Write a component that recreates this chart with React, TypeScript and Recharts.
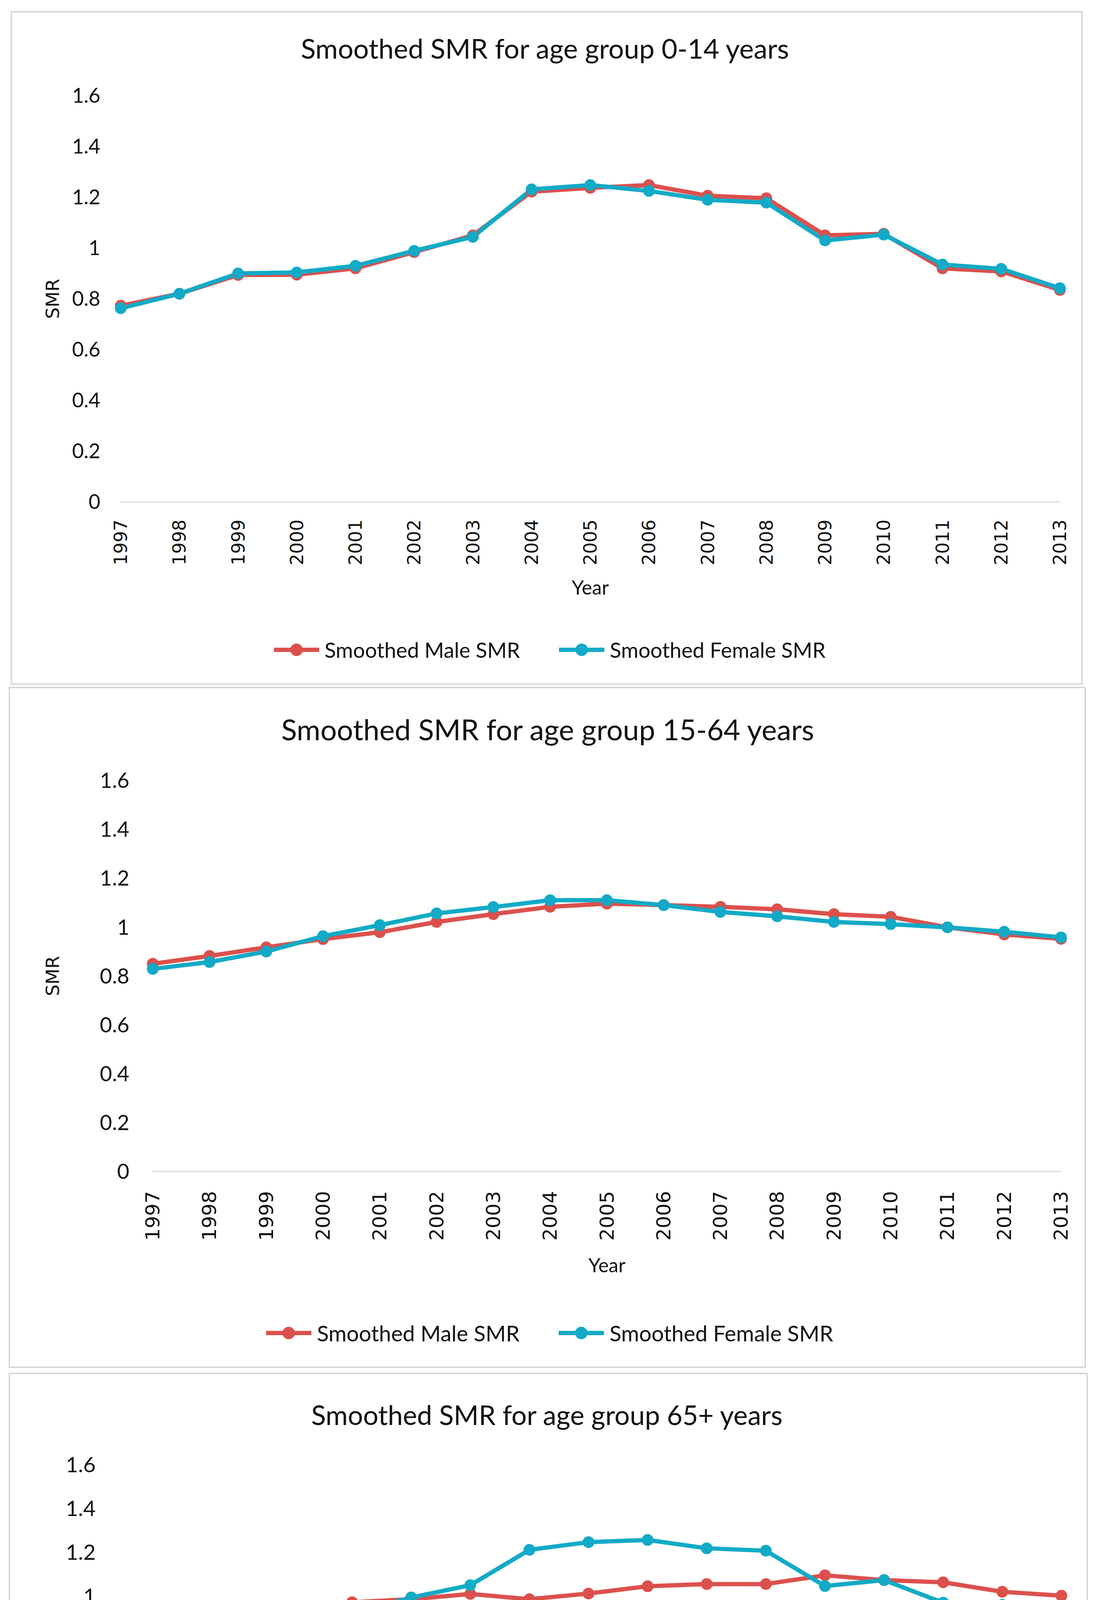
import React from "react";
import { LineChart, Line, XAxis, YAxis, Legend, Label } from "recharts";

const years = [
  "1997", "1998", "1999", "2000", "2001", "2002", "2003", "2004", "2005",
  "2006", "2007", "2008", "2009", "2010", "2011", "2012", "2013",
];
const yTicks = [0, 0.2, 0.4, 0.6, 0.8, 1, 1.2, 1.4, 1.6];

const male0to14 = [0.773, 0.82, 0.894, 0.895, 0.92, 0.984, 1.05, 1.222, 1.237, 1.248, 1.206, 1.196, 1.05, 1.056, 0.92, 0.908, 0.835];
const female0to14 = [0.763, 0.82, 0.9, 0.904, 0.93, 0.989, 1.044, 1.231, 1.248, 1.225, 1.19, 1.179, 1.03, 1.053, 0.935, 0.918, 0.842];

const male15to64 = [0.85, 0.882, 0.917, 0.951, 0.979, 1.021, 1.053, 1.083, 1.096, 1.09, 1.083, 1.073, 1.053, 1.042, 0.999, 0.97, 0.952];
const female15to64 = [0.829, 0.857, 0.9, 0.963, 1.008, 1.056, 1.082, 1.11, 1.11, 1.09, 1.062, 1.044, 1.021, 1.012, 0.999, 0.981, 0.958];

const male65plus = [0.885, 0.922, 0.916, 0.946, 0.972, 0.986, 1.01, 0.986, 1.012, 1.045, 1.055, 1.055, 1.095, 1.073, 1.063, 1.02, 1.002];
const female65plus = [0.703, 0.767, 0.853, 0.89, 0.92, 0.994, 1.05, 1.211, 1.246, 1.256, 1.218, 1.207, 1.046, 1.073, 0.97, 0.96, 0.894];

const seriesNames = ["Smoothed Male SMR", "Smoothed Female SMR"];
const titles = [
  "Smoothed SMR for age group 0-14 years",
  "Smoothed SMR for age group 15-64 years",
  "Smoothed SMR for age group 65+ years",
];

const RED = "#DC504C";
const TEAL = "#12AAC6";
const TEXT = "#111";
const SANS = "Lato, 'Open Sans', sans-serif";
const WIDE = "'DejaVu Sans', Verdana, sans-serif";
const BORDER = 4;

const layouts = [
  {
    box: { left: 27, top: 28, right: 2772, bottom: 1753 },
    plot: { left: 309, top: 245, right: 2713, bottom: 1285 },
    titleX: 1395, titleY: 123, titleSize: 70,
    yTickGap: 52, yTickSize: 52,
    xTickGap: 43, xTickSize: 46,
    smrX: 134, yearY: 1503,
    legendX: 1407, legendY: 1663, legendSize: 54,
  },
  {
    box: { left: 22, top: 1758, right: 2780, bottom: 3502 },
    plot: { left: 391, top: 1998, right: 2716, bottom: 2999 },
    titleX: 1402, titleY: 1866, titleSize: 74,
    yTickGap: 60, yTickSize: 54,
    xTickGap: 48, xTickSize: 50,
    smrX: 134, yearY: 3238,
    legendX: 1407, legendY: 3412, legendSize: 56,
  },
  {
    box: { left: 22, top: 3514, right: 2785, bottom: 5230 },
    plot: { left: 296, top: 3749, right: 2717, bottom: 4648 },
    titleX: 1400, titleY: 3621, titleSize: 69,
    yTickGap: 51, yTickSize: 55,
    xTickGap: 48, xTickSize: 50,
    smrX: 125, yearY: 4886,
    legendX: 1409, legendY: 5135, legendSize: 52,
  },
];

type Layout = (typeof layouts)[number];

function Panel({ cfg, male, female, title }: { cfg: Layout; male: number[]; female: number[]; title: string }) {
  const ox = cfg.box.left + BORDER;
  const oy = cfg.box.top + BORDER;
  const w = cfg.box.right - cfg.box.left - 2 * BORDER;
  const h = cfg.box.bottom - cfg.box.top - 2 * BORDER;
  const data = years.map((year, i) => ({ year, male: male[i], female: female[i] }));

  const renderXTick = (props: any) => {
    const { x, y, payload } = props;
    const ty = y + cfg.xTickGap;
    return (
      <text
        x={x}
        y={ty}
        transform={`rotate(-90 ${x} ${ty})`}
        textAnchor="end"
        dominantBaseline="central"
        fontFamily={WIDE}
        fontSize={cfg.xTickSize}
        fill={TEXT}
      >
        {payload.value}
      </text>
    );
  };

  const renderLegend = () => (
    <div style={{ display: "flex", justifyContent: "center", alignItems: "center", gap: 100 }}>
      {seriesNames.map((name, i) => {
        const c = i === 0 ? RED : TEAL;
        return (
          <div key={name} style={{ display: "flex", alignItems: "center" }}>
            <svg width={116} height={36} style={{ marginRight: 14 }}>
              <line x1={0} y1={18} x2={116} y2={18} stroke={c} strokeWidth={11} />
              <circle cx={58} cy={18} r={16} fill={c} />
            </svg>
            <span style={{ fontFamily: SANS, fontSize: cfg.legendSize, color: TEXT, whiteSpace: "nowrap" }}>{name}</span>
          </div>
        );
      })}
    </div>
  );

  return (
    <div
      style={{
        position: "absolute",
        left: cfg.box.left,
        top: cfg.box.top,
        width: cfg.box.right - cfg.box.left,
        height: cfg.box.bottom - cfg.box.top,
        border: `${BORDER}px solid #d9d9d9`,
        boxSizing: "border-box",
        background: "#fff",
      }}
    >
      <div
        style={{
          position: "absolute",
          left: cfg.titleX - ox,
          top: cfg.titleY - oy,
          transform: "translate(-50%, -50%)",
          whiteSpace: "nowrap",
          fontFamily: SANS,
          fontSize: cfg.titleSize,
          color: TEXT,
        }}
      >
        {title}
      </div>
      <LineChart
        width={w}
        height={h}
        data={data}
        margin={{ top: cfg.plot.top - oy, right: ox + w - cfg.plot.right, bottom: 0, left: 0 }}
      >
        <XAxis
          dataKey="year"
          height={oy + h - cfg.plot.bottom}
          interval={0}
          tickLine={false}
          tickSize={0}
          tick={renderXTick}
          axisLine={{ stroke: "#d9d9d9", strokeWidth: 3 }}
        >
          <Label
            content={(p: any) => (
              <text
                x={p.viewBox.x + p.viewBox.width / 2}
                y={cfg.yearY - oy}
                textAnchor="middle"
                dominantBaseline="central"
                fontFamily={SANS}
                fontSize={50}
                fill={TEXT}
              >
                Year
              </text>
            )}
          />
        </XAxis>
        <YAxis
          width={cfg.plot.left - ox}
          domain={[0, 1.6]}
          ticks={yTicks}
          interval={0}
          axisLine={false}
          tickLine={false}
          tickSize={0}
          tickMargin={cfg.yTickGap}
          tick={{ fontFamily: SANS, fontSize: cfg.yTickSize, fill: TEXT }}
        >
          <Label
            content={(p: any) => {
              const cx = cfg.smrX - ox;
              const cy = p.viewBox.y + p.viewBox.height / 2;
              return (
                <text
                  x={cx}
                  y={cy}
                  transform={`rotate(-90 ${cx} ${cy})`}
                  textAnchor="middle"
                  dominantBaseline="central"
                  fontFamily={WIDE}
                  fontSize={47}
                  fill={TEXT}
                >
                  SMR
                </text>
              );
            }}
          />
        </YAxis>
        <Legend
          layout="horizontal"
          verticalAlign="middle"
          align="center"
          content={renderLegend}
          wrapperStyle={{
            top: cfg.legendY - oy,
            left: cfg.legendX - ox - w / 2,
            width: w,
            transform: "translateY(-50%)",
          }}
        />
        <Line
          type="linear"
          dataKey="male"
          name={seriesNames[0]}
          stroke={RED}
          strokeWidth={11}
          dot={{ r: 15, fill: RED, stroke: RED, strokeWidth: 0 }}
          activeDot={false}
          isAnimationActive={false}
        />
        <Line
          type="linear"
          dataKey="female"
          name={seriesNames[1]}
          stroke={TEAL}
          strokeWidth={11}
          dot={{ r: 15, fill: TEAL, stroke: TEAL, strokeWidth: 0 }}
          activeDot={false}
          isAnimationActive={false}
        />
      </LineChart>
    </div>
  );
}

export default function App() {
  // normal-flow block of the full page size; the negative margin cancels the body margin
  return (
    <div style={{ position: "relative", width: 2803, height: 5254, margin: -8, background: "#fff" }}>
      <Panel cfg={layouts[0]} male={male0to14} female={female0to14} title={titles[0]} />
      <Panel cfg={layouts[1]} male={male15to64} female={female15to64} title={titles[1]} />
      <Panel cfg={layouts[2]} male={male65plus} female={female65plus} title={titles[2]} />
    </div>
  );
}
